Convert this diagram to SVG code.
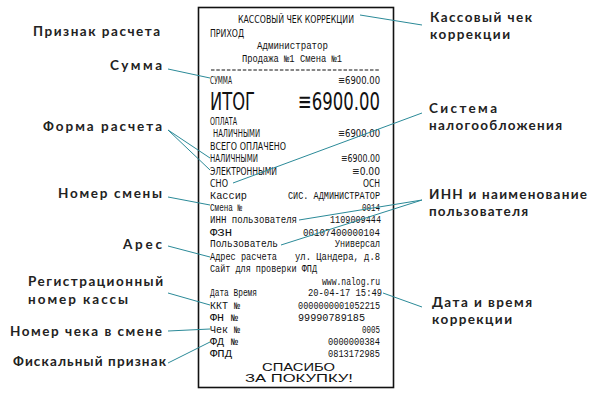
<svg xmlns="http://www.w3.org/2000/svg" width="600" height="404" viewBox="0 0 600 404">
<style>
.lbl{font-family:Lato,"Noto Sans","Liberation Sans",sans-serif;font-weight:700;font-size:13.5px;fill:#222}
.up{font-family:"DejaVu Sans Condensed","Liberation Sans Narrow","Liberation Sans",sans-serif;font-size:10.5px;fill:#111}
.mn{font-family:"Liberation Mono","DejaVu Sans Mono",monospace;font-size:10px;fill:#111}
.big{font-family:"DejaVu Sans Condensed","Liberation Sans Narrow","Liberation Sans",sans-serif;font-size:25px;fill:#111}
.thx{font-family:"Liberation Sans","DejaVu Sans",sans-serif;font-size:10.4px;fill:#111}
.cn line{stroke:#2b8a98;stroke-width:1;fill:none}
</style>
<rect width="600" height="404" fill="#fff"/>
<g id="receipt">
<rect x="198.5" y="7.5" width="195" height="380" fill="#fff" stroke="#111" stroke-width="1.6"/>
<text class="up" x="238" y="22.5" textLength="116" lengthAdjust="spacingAndGlyphs">КАССОВЫЙ ЧЕК КОРРЕКЦИИ</text>
<text class="up" x="210" y="37" textLength="34" lengthAdjust="spacingAndGlyphs">ПРИХОД</text>
<text class="mn" x="257" y="48.5" textLength="71" lengthAdjust="spacingAndGlyphs">Администратор</text>
<text class="mn" x="242" y="61.5" textLength="100" lengthAdjust="spacingAndGlyphs">Продажа №1 Смена №1</text>
<line x1="211" y1="70" x2="380" y2="70" stroke="#111" stroke-width="1" stroke-dasharray="3.5 1.8"/>
<text class="up" x="210" y="83.5" textLength="22" lengthAdjust="spacingAndGlyphs">СУММА</text>
<text class="up" x="338" y="83.5" textLength="42" lengthAdjust="spacingAndGlyphs">≡6900.00</text>
<text class="big" x="210" y="109.5" textLength="45" lengthAdjust="spacingAndGlyphs">ИТОГ</text>
<text class="big" x="298" y="109.5" textLength="82" lengthAdjust="spacingAndGlyphs">≡6900.00</text>
<text class="up" x="210" y="125" style="font-size:10px" textLength="27" lengthAdjust="spacingAndGlyphs">ОПЛАТА</text>
<text class="up" x="213" y="136.5" textLength="47" lengthAdjust="spacingAndGlyphs">НАЛИЧНЫМИ</text>
<text class="up" x="338" y="136.5" textLength="42" lengthAdjust="spacingAndGlyphs">≡6900.00</text>
<text class="up" x="210" y="150" textLength="76" lengthAdjust="spacingAndGlyphs">ВСЕГО ОПЛАЧЕНО</text>
<text class="up" x="210" y="161.5" textLength="48" lengthAdjust="spacingAndGlyphs">НАЛИЧНЫМИ</text>
<text class="up" x="341" y="161.5" textLength="39" lengthAdjust="spacingAndGlyphs">≡6900.00</text>
<text class="up" x="210" y="174.5" textLength="67" lengthAdjust="spacingAndGlyphs">ЭЛЕКТРОННЫМИ</text>
<text class="up" x="352" y="174.5" textLength="28" lengthAdjust="spacingAndGlyphs">≡0.00</text>
<text class="up" x="210" y="186.5" textLength="18" lengthAdjust="spacingAndGlyphs">СНО</text>
<text class="up" x="363" y="186.5" textLength="17" lengthAdjust="spacingAndGlyphs">ОСН</text>
<text class="mn" x="210" y="199" textLength="37" lengthAdjust="spacingAndGlyphs">Кассир</text>
<text class="mn" x="288" y="199" textLength="92" lengthAdjust="spacingAndGlyphs">СИС. АДМИНИСТРАТОР</text>
<text class="mn" x="210" y="210.5" textLength="32" lengthAdjust="spacingAndGlyphs">Смена №</text>
<text class="mn" x="362" y="210.5" textLength="18" lengthAdjust="spacingAndGlyphs">0014</text>
<text class="mn" x="210" y="223" textLength="87" lengthAdjust="spacingAndGlyphs">ИНН пользователя</text>
<text class="mn" x="330" y="223" textLength="51" lengthAdjust="spacingAndGlyphs">1109009444</text>
<text class="mn" x="210" y="235.5" textLength="22" lengthAdjust="spacingAndGlyphs">ФЗН</text>
<text class="mn" x="303" y="235.5" textLength="77" lengthAdjust="spacingAndGlyphs">00107400000104</text>
<text class="mn" x="210" y="247" textLength="68" lengthAdjust="spacingAndGlyphs">Пользователь</text>
<text class="mn" x="335" y="247" textLength="45" lengthAdjust="spacingAndGlyphs">Универсал</text>
<text class="mn" x="210" y="260" textLength="67" lengthAdjust="spacingAndGlyphs">Адрес расчета</text>
<text class="mn" x="295" y="260" textLength="85" lengthAdjust="spacingAndGlyphs">ул. Цандера, д.8</text>
<text class="mn" x="210" y="272" textLength="107" lengthAdjust="spacingAndGlyphs">Сайт для проверки ФПД</text>
<text class="mn" x="322" y="284.5" textLength="58" lengthAdjust="spacingAndGlyphs">www.nalog.ru</text>
<text class="mn" x="210" y="296" textLength="47" lengthAdjust="spacingAndGlyphs">Дата Время</text>
<text class="mn" x="308" y="296" textLength="74" lengthAdjust="spacingAndGlyphs">20-04-17 15:49</text>
<text class="mn" x="210" y="309" textLength="30" lengthAdjust="spacingAndGlyphs">ККТ №</text>
<text class="mn" x="298" y="309" textLength="82" lengthAdjust="spacingAndGlyphs">0000000001052215</text>
<text class="mn" x="210" y="320.5" textLength="28" lengthAdjust="spacingAndGlyphs">ФН №</text>
<text class="mn" x="298" y="320.5" textLength="67" lengthAdjust="spacingAndGlyphs">99990789185</text>
<text class="mn" x="210" y="333" textLength="30" lengthAdjust="spacingAndGlyphs">Чек №</text>
<text class="mn" x="362" y="333" textLength="18" lengthAdjust="spacingAndGlyphs">0005</text>
<text class="mn" x="210" y="345" textLength="28" lengthAdjust="spacingAndGlyphs">ФД №</text>
<text class="mn" x="328" y="345" textLength="52" lengthAdjust="spacingAndGlyphs">0000000384</text>
<text class="mn" x="210" y="356.5" textLength="22" lengthAdjust="spacingAndGlyphs">ФПД</text>
<text class="mn" x="328" y="356.5" textLength="52" lengthAdjust="spacingAndGlyphs">0813172985</text>
<text class="thx" x="262" y="370.5" textLength="73" lengthAdjust="spacingAndGlyphs">СПАСИБО</text>
<text class="thx" x="245" y="382" textLength="108" lengthAdjust="spacingAndGlyphs">ЗА ПОКУПКУ!</text>
</g>
<g class="cn" id="connectors">
<line x1="360" y1="15" x2="422" y2="25"/>
<line x1="168" y1="69" x2="210" y2="78"/>
<line x1="168" y1="130" x2="210" y2="158"/>
<line x1="168" y1="130" x2="210" y2="170"/>
<line x1="233" y1="183" x2="422" y2="113"/>
<line x1="168" y1="197" x2="210" y2="205"/>
<line x1="422" y1="200" x2="299" y2="220"/>
<line x1="422" y1="200" x2="281" y2="245"/>
<line x1="168" y1="246" x2="210" y2="257"/>
<line x1="168" y1="293" x2="210" y2="305"/>
<line x1="168" y1="331" x2="210" y2="329"/>
<line x1="168" y1="363" x2="210" y2="342"/>
<line x1="383" y1="293" x2="422" y2="307"/>
</g>
<g id="lbl-priznak"><text class="lbl" x="33" y="35.5" textLength="127">Признак расчета</text></g>
<g id="lbl-summa"><text class="lbl" x="110" y="70" textLength="52">Сумма</text></g>
<g id="lbl-forma"><text class="lbl" x="43" y="131" textLength="119">Форма расчета</text></g>
<g id="lbl-smena"><text class="lbl" x="58" y="198" textLength="104">Номер смены</text></g>
<g id="lbl-ares"><text class="lbl" x="123" y="249" textLength="39">Арес</text></g>
<g id="lbl-regnom"><text class="lbl" x="28" y="286"><tspan x="28" textLength="135">Регистрационный</tspan><tspan x="28" y="304" textLength="100">номер кассы</tspan></text></g>
<g id="lbl-chek"><text class="lbl" x="10" y="336" textLength="152">Номер чека в смене</text></g>
<g id="lbl-fisk"><text class="lbl" x="13" y="366" textLength="153">Фискальный признак</text></g>
<g id="lbl-kassov"><text class="lbl" x="430" y="21.5"><tspan x="430" textLength="102">Кассовый чек</tspan><tspan x="430" y="38.5" textLength="80">коррекции</tspan></text></g>
<g id="lbl-sno"><text class="lbl" x="429" y="113"><tspan x="429" textLength="68">Система</tspan><tspan x="429" y="130" textLength="133">налогообложения</tspan></text></g>
<g id="lbl-inn"><text class="lbl" x="429" y="198.5"><tspan x="429" textLength="158">ИНН и наименование</tspan><tspan x="429" y="215.5" textLength="99">пользователя</tspan></text></g>
<g id="lbl-data"><text class="lbl" x="432" y="306.5"><tspan x="432" textLength="100">Дата и время</tspan><tspan x="432" y="323.5" textLength="80">коррекции</tspan></text></g>
</svg>
